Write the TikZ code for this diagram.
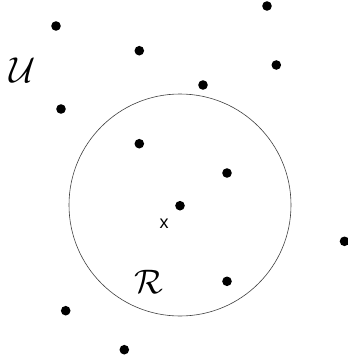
\documentclass[tikz,border=0pt]{standalone}
\usepackage{fontspec}
\newfontfamily\lblsans{Liberation Sans}
\begin{document}
\begin{tikzpicture}[x=1pt,y=-1pt,
  pt/.style={circle,fill=black,inner sep=0pt,minimum size=9.6pt},
  lbl/.style={inner sep=0pt}]
\useasboundingbox (0,0) rectangle (348,362);
\node[circle,draw=black!75,line width=0.6pt,minimum size=222pt,inner sep=0pt] (R) at (180,205) {};
\node[pt] (p1) at (267,6) {};
\node[pt] (p2) at (56,26) {};
\node[pt] (p3) at (139.3,50.7) {};
\node[pt] (p4) at (276.3,65) {};
\node[pt] (p5) at (203,85) {};
\node[pt] (p6) at (61,109) {};
\node[pt] (p7) at (139.3,143.7) {};
\node[pt] (p8) at (227,173) {};
\node[pt] (p9) at (180,205.7) {};
\node[pt] (p10) at (344.5,241.3) {};
\node[pt] (p11) at (227,281.3) {};
\node[pt] (p12) at (65.7,310.7) {};
\node[pt] (p13) at (124.3,349.7) {};
\node[lbl] (x) at (164,224) {\fontsize{18}{20}\selectfont\lblsans x};
\node[lbl] (U) at (23,70) {\scalebox{3.6}{$\mathcal{U}$}};
\node[lbl] (Rl) at (149,282) {\scalebox{3.4}{$\mathcal{R}$}};
\end{tikzpicture}
\end{document}
